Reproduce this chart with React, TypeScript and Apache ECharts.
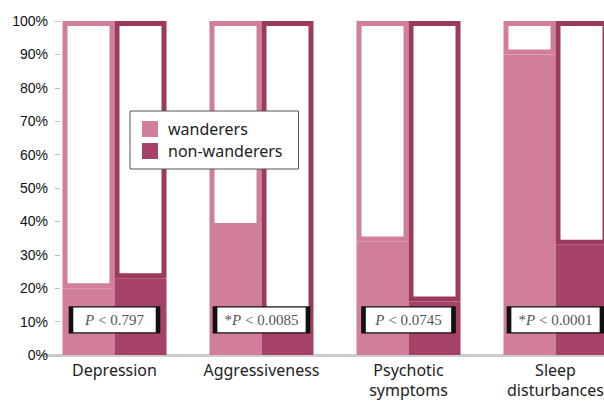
import React, { useEffect, useRef } from "react";
import * as echarts from "echarts";

const categories = ["Depression", "Aggressiveness", "Psychotic\nsymptoms", "Sleep\ndisturbances"];
const wanderers = [20, 38, 34, 90];
const nonWanderers = [23, 12, 16, 33];
const pLabels = ["P < 0.797", "*P < 0.0085", "P < 0.0745", "*P < 0.0001"];
const pLevel = [10.5, 10.5, 10.5, 10.5];
const yTicks = [0, 10, 20, 30, 40, 50, 60, 70, 80, 90, 100];

const W_COLOR = "#d17e9a";
const N_COLOR = "#a6426a";
const N_BORDER = "#9c3a5e";

export default function App() {
  const ref = useRef<HTMLDivElement>(null);
  useEffect(() => {
    if (!ref.current) return;
    const chart = echarts.init(ref.current, null, { renderer: "svg" });
    const total = 100;
    const wRest = wanderers.map((v) => total - v);
    const nRest = nonWanderers.map((v) => total - v);
    const barBase = {
      type: "bar" as const,
      barWidth: 52,
      barGap: "0%",
    };
    chart.setOption({
      animation: false,
      backgroundColor: "#ffffff",
      grid: {
        left: 41,
        width: 588,
        top: 21,
        bottom: 46,
        containLabel: false,
        outerBoundsMode: "none",
      },
      legend: {
        data: ["wanderers", "non-wanderers"],
        orient: "vertical",
        left: 130,
        top: 111,
        padding: [10, 16, 10, 12],
        itemWidth: 14,
        itemHeight: 14,
        itemGap: 6,
        icon: "rect",
        backgroundColor: "#ffffff",
        borderColor: "#555555",
        borderWidth: 1,
        textStyle: { fontFamily: "Noto Sans", fontSize: 16, color: "#222", padding: [0, 0, 0, 6] },
      },
      xAxis: {
        type: "category",
        data: categories,
        axisLine: { show: true, lineStyle: { color: "#cccccc", width: 3 } },
        axisTick: { show: false },
        axisLabel: {
          fontFamily: "Noto Sans",
          fontSize: 16,
          color: "#222",
          margin: 5,
          lineHeight: 20,
          interval: 0,
        },
        z: 0,
      },
      yAxis: {
        type: "value",
        min: 0,
        max: 100,
        interval: 10,
        offset: -19,
        axisLine: { show: false },
        axisTick: { show: true, length: 5, lineStyle: { color: "#bbbbbb" } },
        splitLine: { show: false },
        axisLabel: {
          fontFamily: "Liberation Sans",
          fontSize: 14,
          color: "#111",
          margin: 12,
          formatter: (v: number) => (yTicks.includes(v) ? v + "%" : ""),
        },
      },
      series: [
        {
          ...barBase,
          name: "wanderers",
          stack: "w",
          data: wanderers,
          itemStyle: { color: W_COLOR, borderColor: W_COLOR, borderWidth: 5 },
        },
        {
          ...barBase,
          name: "wanderers-rest",
          stack: "w",
          data: wRest,
          itemStyle: { color: "#ffffff", borderColor: W_COLOR, borderWidth: 5 },
        },
        {
          ...barBase,
          name: "non-wanderers",
          stack: "n",
          data: nonWanderers,
          itemStyle: { color: N_COLOR, borderColor: N_COLOR, borderWidth: 5 },
        },
        {
          ...barBase,
          name: "non-wanderers-rest",
          stack: "n",
          data: nRest,
          itemStyle: { color: "#ffffff", borderColor: N_BORDER, borderWidth: 5 },
        },
        {
          type: "scatter",
          name: "p",
          data: pLevel,
          symbol: "rect",
          symbolSize: (_v: number, p: any) => [60 + 3 * pLabels[p.dataIndex].length, 26],
          itemStyle: { color: "#ffffff", borderColor: "#111111", borderWidth: 2.5, opacity: 1 },
          z: 10,
          label: {
            show: true,
            position: "inside",
            formatter: (p: any) => {
              const s: string = pLabels[p.dataIndex];
              const star = s.startsWith("*") ? "*" : "";
              const rest = s.replace("*", "").replace(/^P/, "");
              return `{a|${star}}{p|P}{b|${rest}}`;
            },
            rich: {
              a: { fontFamily: "Liberation Serif", fontSize: 15, color: "#555" },
              p: { fontFamily: "Liberation Serif", fontSize: 15, fontStyle: "italic", color: "#555" },
              b: { fontFamily: "Liberation Serif", fontSize: 15, color: "#555" },
            },
          },
          emphasis: { disabled: true },
        },
      ],
    });
    return () => chart.dispose();
  }, []);
  return (
    <div
      ref={ref}
      style={{ position: "fixed", left: 0, top: 0, width: 604, height: 401, background: "#fff" }}
    />
  );
}
